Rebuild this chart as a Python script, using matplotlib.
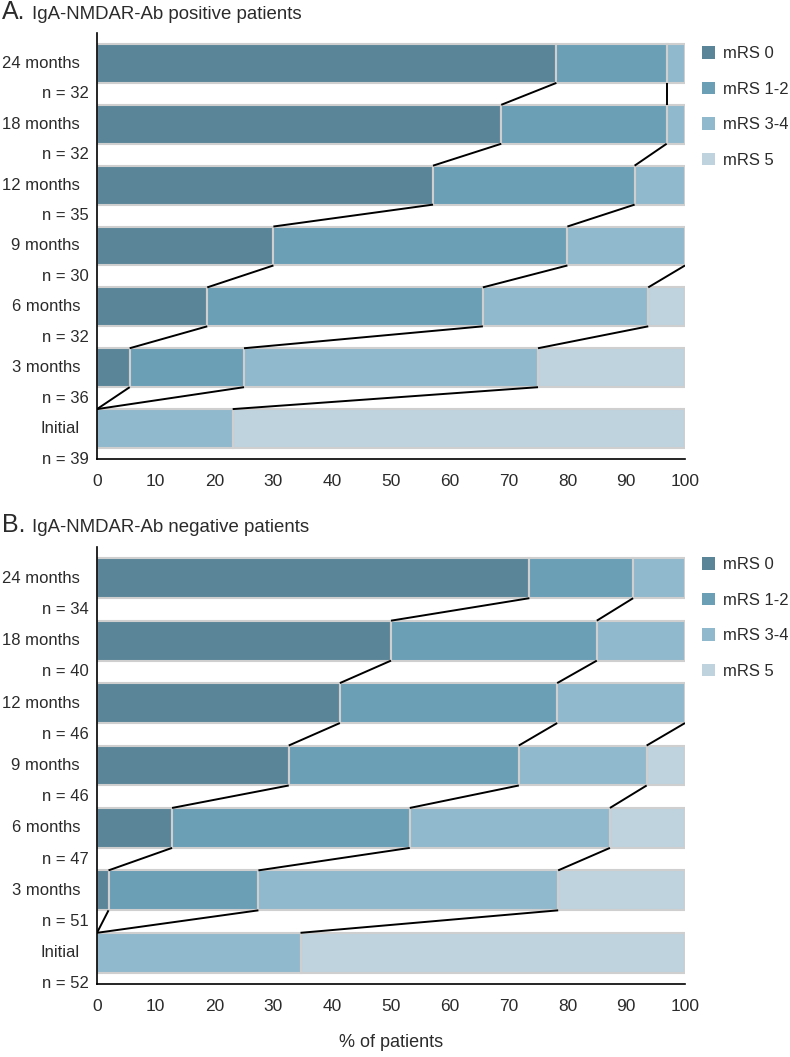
import numpy as np
import matplotlib
matplotlib.use('Agg')
import matplotlib.pyplot as plt
from matplotlib.patches import Patch

plt.rcParams['font.family'] = ['Liberation Sans', 'DejaVu Sans']

# time points, bottom to top
months = ['Initial', '3 months', '6 months', '9 months', '12 months', '18 months', '24 months']
categories = ['mRS 0', 'mRS 1-2', 'mRS 3-4', 'mRS 5']
colors = ['#5a8599', '#6a9fb6', '#91b9cd', '#bed3de']

# IgA-NMDAR-Ab positive (patient counts per category)
pos_n = [39, 36, 32, 30, 35, 32, 32]
pos_mrs0 = [0, 2, 6, 9, 20, 22, 25]
pos_mrs12 = [0, 7, 15, 15, 12, 9, 6]
pos_mrs34 = [9, 18, 9, 6, 3, 1, 1]
pos_mrs5 = [30, 9, 2, 0, 0, 0, 0]

# IgA-NMDAR-Ab negative
neg_n = [52, 51, 47, 46, 46, 40, 34]
neg_mrs0 = [0, 1, 6, 15, 19, 20, 25]
neg_mrs12 = [0, 13, 19, 18, 17, 14, 6]
neg_mrs34 = [18, 26, 16, 10, 10, 6, 3]
neg_mrs5 = [34, 11, 6, 3, 0, 0, 0]

W, H = 790, 1057
fig = plt.figure(figsize=(W/100, H/100), dpi=100)
txtc = '#2b2b2b'
bh = 0.64


def draw_panel(ax, n, groups):
    n = np.array(n, dtype=float)
    pct = [np.array(g)/n*100 for g in groups]
    cum = np.cumsum(pct, axis=0)
    y = np.arange(len(months))
    for k in range(4):
        left = cum[k] - pct[k]
        for i in range(len(y)):
            if pct[k][i] > 0:
                ax.barh(y[i], pct[k][i], left=left[i], height=bh, color=colors[k],
                        edgecolor='#cfcfcf', linewidth=1.5, zorder=2)
    # connecting lines between consecutive time points
    for k in range(3):
        for i in range(len(y) - 1):
            a, b = cum[k][i+1], cum[k][i]
            if (a > 99.9 and b > 99.9) or (a < 0.1 and b < 0.1):
                continue
            ax.plot([a, b], [y[i+1] - bh/2, y[i] + bh/2], color='black', lw=1.4,
                    zorder=3, solid_capstyle='butt')
    ax.set_xlim(0, 100)
    ax.set_ylim(-0.5, 6.5)
    ax.set_xticks(range(0, 101, 10))
    ax.set_yticks([])
    ax.tick_params(axis='x', length=0, pad=11, labelsize=12.5, labelcolor=txtc)
    for s in ['top', 'right']:
        ax.spines[s].set_visible(False)
    for s in ['left', 'bottom']:
        ax.spines[s].set_linewidth(1.2)
    tr = ax.get_yaxis_transform()
    for i, m in enumerate(months):
        ax.annotate(m, (0, y[i]), xycoords=tr, xytext=(-17, 0), textcoords='offset pixels',
                    ha='right', va='center', fontsize=12, color=txtc)
        ax.annotate('n = %d' % n[i], (0, y[i] - 0.5), xycoords=tr, xytext=(-8, 0),
                    textcoords='offset pixels', ha='right', va='center', fontsize=12, color=txtc)
    handles = [Patch(facecolor=c, edgecolor='none') for c in colors]
    return handles


leg_kw = dict(loc='upper left', frameon=False, fontsize=12, handlelength=0.8, handleheight=0.8,
              handletextpad=0.45, labelspacing=1.22, borderpad=0, borderaxespad=0, labelcolor=txtc)

axA = fig.add_axes([97/W, 1 - 459/H, (685-97)/W, (459-33)/H])
h = draw_panel(axA, pos_n, [pos_mrs0, pos_mrs12, pos_mrs34, pos_mrs5])
fig.legend(h, categories, bbox_to_anchor=(702/W, 1 - 46/H), **leg_kw)

axB = fig.add_axes([97/W, 1 - 984/H, (685-97)/W, (984-547)/H])
h = draw_panel(axB, neg_n, [neg_mrs0, neg_mrs12, neg_mrs34, neg_mrs5])
fig.legend(h, categories, bbox_to_anchor=(702/W, 1 - 557/H), **leg_kw)
axB.set_xlabel('% of patients', fontsize=13, color=txtc, labelpad=14)

fig.text(2/W, 1 - 19/H, 'A.', fontsize=18, color=txtc, va='baseline')
fig.text(32/W, 1 - 19/H, 'IgA-NMDAR-Ab positive patients', fontsize=13.4, color=txtc, va='baseline')
fig.text(2/W, 1 - 532/H, 'B.', fontsize=18, color=txtc, va='baseline')
fig.text(32/W, 1 - 532/H, 'IgA-NMDAR-Ab negative patients', fontsize=13.4, color=txtc, va='baseline')

fig.savefig('out.png', dpi=100)
